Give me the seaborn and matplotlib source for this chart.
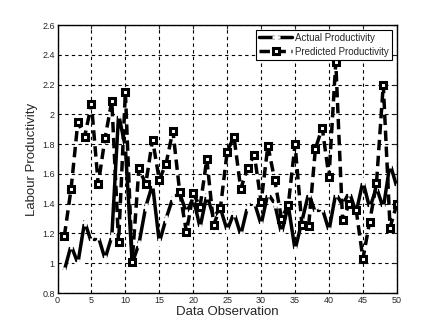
import matplotlib
matplotlib.use("Agg")
import matplotlib.pyplot as plt
import seaborn as sns
import pandas as pd
import numpy as np

observation = list(range(1, 51))
actual = [0.95, 1.12, 1.00, 1.28, 1.14, 1.18, 1.03, 1.18, 2.00, 1.78,
          1.00, 1.13, 1.38, 1.53, 1.14, 1.30, 1.44, 1.47, 1.34, 1.44,
          1.24, 1.46, 1.31, 1.37, 1.22, 1.34, 1.19, 1.38, 1.41, 1.26,
          1.47, 1.40, 1.20, 1.39, 1.09, 1.28, 1.47, 1.34, 1.37, 1.22,
          1.47, 1.39, 1.48, 1.34, 1.55, 1.37, 1.51, 1.37, 1.67, 1.51]
predicted = [1.18, 1.50, 1.95, 1.85, 2.07, 1.53, 1.84, 2.09, 1.14, 2.15,
             1.01, 1.64, 1.53, 1.83, 1.56, 1.67, 1.89, 1.48, 1.21, 1.47,
             1.38, 1.70, 1.26, 1.37, 1.75, 1.85, 1.50, 1.64, 1.73, 1.41,
             1.79, 1.56, 1.30, 1.39, 1.80, 1.26, 1.25, 1.77, 1.91, 1.58,
             2.35, 1.29, 1.40, 1.36, 1.03, 1.28, 1.54, 2.20, 1.24, 1.40]
xticks = list(range(0, 51, 5))
yticks = [0.8, 1.0, 1.2, 1.4, 1.6, 1.8, 2.0, 2.2, 2.4, 2.6]
ytick_labels = ["0.8", "1", "1.2", "1.4", "1.6", "1.8", "2", "2.2", "2.4", "2.6"]

df = pd.DataFrame({"obs": observation, "actual": actual, "predicted": predicted})

sns.set_style("white")
plt.rcParams['font.family'] = ['Liberation Sans', 'DejaVu Sans']

fig = plt.figure(figsize=(4.39, 3.3), dpi=100)
ax = fig.add_axes([0.131, 0.112, 0.773, 0.812])

sns.lineplot(data=df, x="obs", y="actual", ax=ax, color="black", linewidth=2.5,
             marker="+", markersize=6, markeredgewidth=2, legend=False)
sns.lineplot(data=df, x="obs", y="predicted", ax=ax, color="black", linewidth=2.5,
             linestyle=(0, (3, 1.6)), marker="s", markersize=5, markerfacecolor="white",
             markeredgecolor="black", markeredgewidth=2.2, legend=False)

lines = ax.get_lines()
lines[0].set_linestyle("-")

ax.set_xlim(0, 50)
ax.set_ylim(0.8, 2.6)
ax.set_xticks(xticks)
ax.set_yticks(yticks)
ax.set_yticklabels(ytick_labels)
ax.tick_params(direction="in", labelsize=6.5, length=3, top=True, right=True, pad=2)
ax.grid(True, color="black", linestyle=(0, (3, 3)), linewidth=0.8)
for s in ax.spines.values():
    s.set_color("black")
    s.set_linewidth(1)
ax.set_xlabel("Data Observation", fontsize=9.5, labelpad=1)
ax.set_ylabel("Labour Productivity", fontsize=9.5, labelpad=3)

leg = ax.legend(handles=lines[:2], labels=["Actual Productivity", "Predicted Productivity"],
                loc="upper right", fontsize=7, frameon=True, fancybox=False,
                edgecolor="black", framealpha=1, handlelength=3.4, borderpad=0.3,
                labelspacing=0.4, handletextpad=0.3, borderaxespad=0.5)
leg.get_frame().set_linewidth(0.8)

fig.savefig("out.png", dpi=100)
